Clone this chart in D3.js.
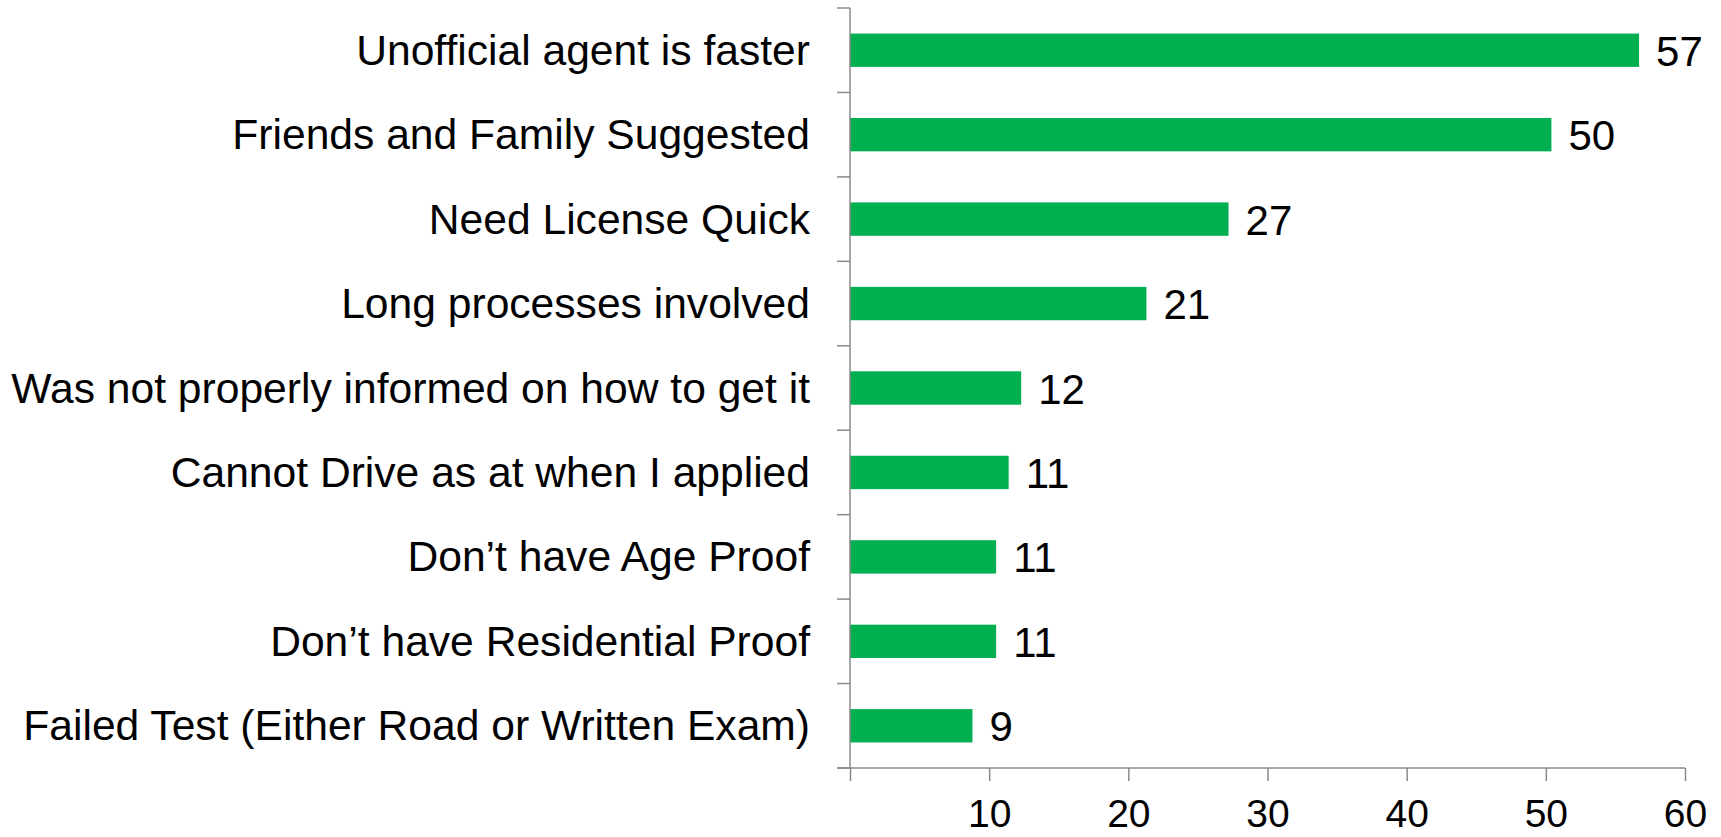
<!DOCTYPE html>
<html>
<head>
<meta charset="utf-8">
<script src="https://cdn.jsdelivr.net/npm/d3@7"></script>
<style>
  body { margin: 0; background: #fff; }
  text { font-family: "Liberation Sans", Arial, sans-serif; fill: #000; }
</style>
</head>
<body>
<div id="chart"></div>
<script>
// Data
var categories = [
  "Unofficial agent is faster",
  "Friends and Family Suggested",
  "Need License Quick",
  "Long processes involved",
  "Was not properly informed on how to get it",
  "Cannot Drive as at when I applied",
  "Don\u2019t have Age Proof",
  "Don\u2019t have Residential Proof",
  "Failed Test (Either Road or Written Exam)"
];
var values = [56.7, 50.4, 27.2, 21.3, 12.3, 11.4, 10.5, 10.5, 8.8];
var xTicks = [10, 20, 30, 40, 50, 60];

// Set up chart
var svgWidth = 1721;
var svgHeight = 837;

var chartMargin = {
  top: 8,
  right: 36,
  bottom: 69,
  left: 850
};

var chartWidth = 1685 - chartMargin.left;
var chartHeight = 768 - chartMargin.top;

var svg = d3.select("#chart")
  .append("svg")
  .attr("width", svgWidth)
  .attr("height", svgHeight);

var chartGroup = svg.append("g")
  .attr("transform", `translate(${chartMargin.left}, ${chartMargin.top})`);

// Scales
var xScale = d3.scaleLinear()
  .domain([0, 60])
  .range([0, chartWidth]);

var yScale = d3.scaleBand()
  .domain(categories)
  .range([0, chartHeight])
  .paddingInner(0.605)
  .paddingOuter(0.3025);

var axisColor = "#8a8a8a";

// Bars
chartGroup.selectAll("rect.bar")
  .data(values)
  .enter()
  .append("rect")
  .attr("class", "bar")
  .attr("x", 0)
  .attr("y", (d, i) => yScale(categories[i]))
  .attr("width", d => xScale(d))
  .attr("height", yScale.bandwidth())
  .attr("fill", "#00b050");

// Value labels
chartGroup.selectAll("text.value")
  .data(values)
  .enter()
  .append("text")
  .attr("class", "value")
  .attr("x", d => xScale(d) + 17)
  .attr("y", (d, i) => yScale(categories[i]) + yScale.bandwidth() / 2 + 15.5)
  .style("font-size", "42px")
  .text(d => d3.format(".0f")(d));

// Y axis: line + ticks between categories
var yAxis = chartGroup.append("g");
yAxis.append("line")
  .attr("x1", 0).attr("x2", 0)
  .attr("y1", 0).attr("y2", chartHeight)
  .attr("stroke", axisColor)
  .attr("stroke-width", 1.5);

var step = yScale.step();
yAxis.selectAll("line.ytick")
  .data(d3.range(categories.length + 1))
  .enter()
  .append("line")
  .attr("class", "ytick")
  .attr("x1", -13).attr("x2", 0)
  .attr("y1", i => i * step)
  .attr("y2", i => i * step)
  .attr("stroke", axisColor)
  .attr("stroke-width", 1.5);

// Category labels
yAxis.selectAll("text.cat")
  .data(categories)
  .enter()
  .append("text")
  .attr("class", "cat")
  .attr("x", -40)
  .attr("y", d => yScale(d) + yScale.bandwidth() / 2 + 14.5)
  .attr("text-anchor", "end")
  .style("font-size", "42.6px")
  .text(d => d);

// X axis
var bottomAxis = d3.axisBottom(xScale)
  .tickValues([0].concat(xTicks))
  .tickSize(13)
  .tickSizeOuter(0)
  .tickFormat(d => d === 0 ? "" : d);

var xAxis = chartGroup.append("g")
  .attr("transform", `translate(0, ${chartHeight})`)
  .call(bottomAxis);

xAxis.select(".domain")
  .attr("stroke", axisColor)
  .attr("stroke-width", 1.5)
  .attr("d", `M-13,0H${chartWidth}`);
xAxis.selectAll(".tick line")
  .attr("stroke", axisColor)
  .attr("stroke-width", 1.5);
xAxis.selectAll(".tick text")
  .attr("y", 59)
  .attr("dy", 0)
  .style("font-size", "39px")
  .attr("fill", "#000");
</script>
</body>
</html>
